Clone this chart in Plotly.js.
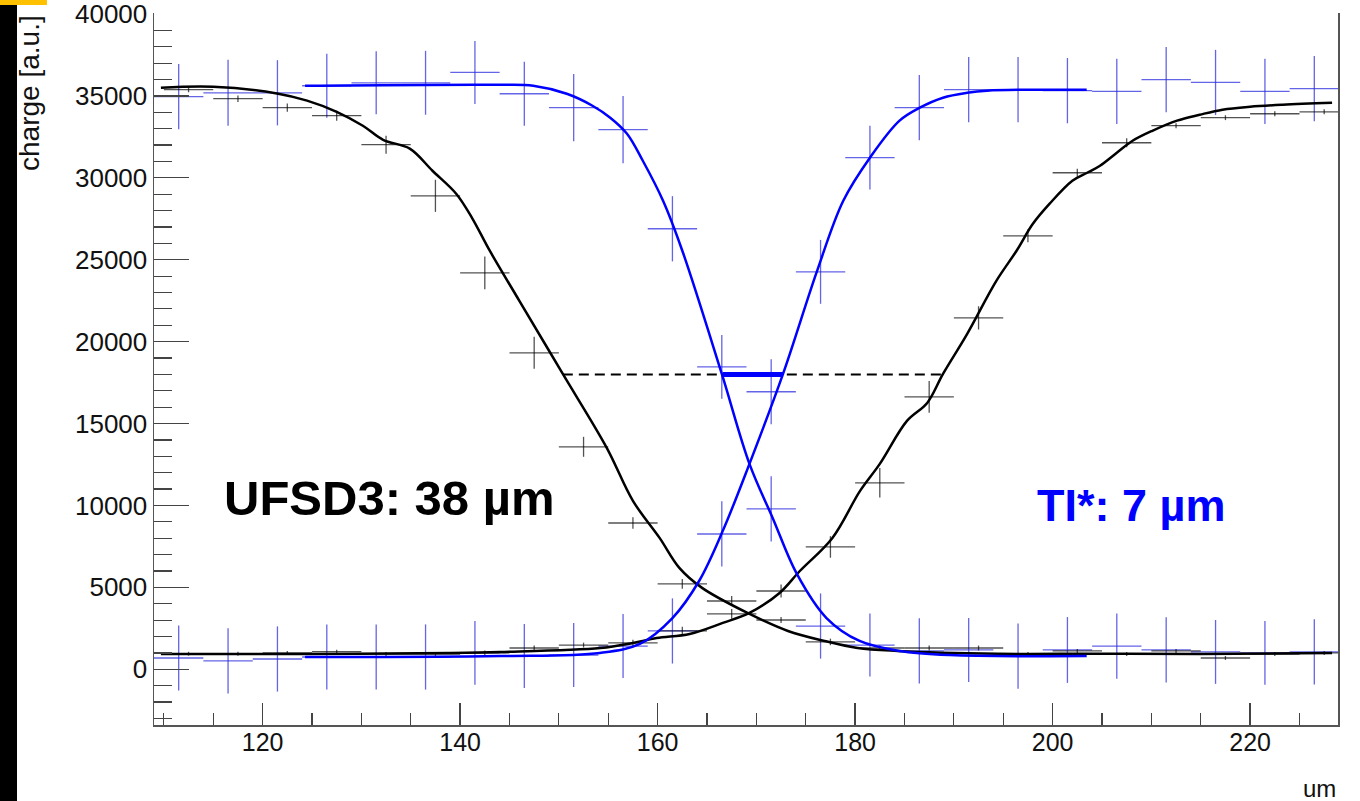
<!DOCTYPE html>
<html>
<head>
<meta charset="utf-8">
<script src="https://cdn.plot.ly/plotly-3.0.1.min.js"></script>
<style>html,body{margin:0;padding:0;background:#fff;}#chart{width:1360px;height:801px;}</style>
</head>
<body>
<div id="chart"></div>
<script>
// bin centres (um)
const xBlue  = [111.5,116.5,121.5,126.5,131.5,136.5,141.5,146.5,151.5,156.5,161.5,166.5,171.5,176.5,181.5,186.5,191.5,196.5,201.5,206.5,211.5,216.5,221.5,226.5];
const xBlack = [112.5,117.5,122.5,127.5,132.5,137.5,142.5,147.5,152.5,157.5,162.5,167.5,172.5,177.5,182.5,187.5,192.5,197.5,202.5,207.5,212.5,217.5,222.5,227.5];

// TI* histograms (blue)
const tiLeft     = [34950,35190,35190,35620,35800,35800,36430,35130,34280,32940,26890,18460,9790,2640,1480,1120,1180,810,1180,1420,1180,1060,1000,1060];
const tiLeftErr  = [1990,2010,1990,1950,1920,1950,1920,1950,2050,2050,1990,1950,1990,1990,1920,1990,1950,1990,2010,1990,1990,1950,1950,1990];
const tiRight    = [690,510,630,750,750,750,1000,810,870,1420,2340,8260,16940,24260,31230,34280,35380,35380,35320,35270,35990,35820,35270,35440];
const tiRightErr = [1990,1990,1990,1990,1990,1990,1950,1950,1950,1950,1990,1990,1990,1950,1950,1990,1990,1990,1990,1990,1990,1990,1990,1990];

// UFSD3 histograms (black)
const ufLeft     = [35380,34830,34280,33790,32020,28900,24200,19320,13580,8930,5210,4170,3010,1670,1300,1300,1300,930,1120,930,1120,690,930,1000];
const ufLeftErr  = [160,200,250,300,550,980,1000,980,610,350,300,300,180,200,150,150,150,120,120,120,120,120,120,120];
const ufRight    = [950,950,1000,1080,930,930,1000,1300,1480,1610,2340,3380,4780,7470,11380,16630,21450,26460,30310,32140,33180,33670,33910,34030];
const ufRightErr = [120,120,120,120,120,120,150,150,150,200,250,300,400,660,900,970,710,400,250,280,150,150,150,150];

// fit curves
const ufLeftFitX = [109.7,115.0,121.45,124.5,127.5,130.15,132.2,134.9,137.2,139.6,141.2,143.0,146.0,150.4,154.85,157.5,160.2,162.2,164.5,169.1,173.2,176.9,180.25,184.3,194.4,204.5,214.9,228.3];
const ufLeftFitY = [35500,35560,35150,34710,34030,33180,32320,31780,30430,29030,27560,25550,22490,18030,13520,10280,8020,6190,4970,3440,2340,1730,1300,1120,950,950,930,1000];
const ufRightFitX = [109.7,123.8,139.0,144.05,154.2,157.5,159.9,163.25,166.6,169.3,172.35,174.4,177.7,180.5,182.5,185.25,187.3,188.9,191.35,194.3,196.35,198.0,199.7,202.0,203.5,204.8,206.5,208.1,210.1,212.6,214.9,217.2,220.0,223.3,228.3];
const ufRightFitY = [930,930,1000,1060,1300,1610,1910,2160,2830,3440,4660,6000,8020,10890,12540,15160,16260,18030,20480,23710,25550,27190,28420,29820,30310,30740,31530,32260,32870,33490,33850,34160,34340,34460,34580];
const tiLeftFitX = [124.3,144.05,147.4,150.8,153.4,155.2,156.9,158.5,160.55,162.5,166.5,169.3,171.65,174.1,177.1,180.45,184.5,189.6,203.45];
const tiLeftFitY = [35620,35680,35620,35130,34400,33670,32690,31040,28600,25550,18030,12540,9240,5820,3130,1730,1120,870,810];
const tiRightFitX = [124.3,144.05,154.15,158.2,161.5,164.2,166.6,169.3,172.7,176.15,178.8,181.5,184.5,186.55,188.9,191.35,193.35,203.45];
const tiRightFitY = [750,810,1000,1550,3130,5390,8450,12540,18030,24320,28600,31230,33490,34280,34890,35190,35320,35380];

// half-maximum widths
const halfMax = 18000;
const ufWidthX = [150.4, 189.0];
const tiWidthX = [166.6, 172.7];

// labels
const ufLabel = "UFSD3: 38 µm";
const tiLabel = "TI*: 7 µm";
const yTitle = "charge [a.u.]";
const xTitle = "um";

const FONT = "Liberation Sans, Arial, Helvetica, sans-serif";
const BLUE = "#0000ff";
const histBlue = "rgba(40,40,220,0.72)";
const histBlack = "rgba(0,0,0,0.68)";

function hist(x, y, err, color) {
  return {
    type: "scatter", mode: "markers", x: x, y: y,
    marker: {size: 2, color: "rgba(0,0,0,0)"},
    error_x: {type: "constant", value: 2.5, width: 0, thickness: 1.3, color: color},
    error_y: {type: "data", array: err, visible: true, width: 0, thickness: 1.3, color: color},
    hoverinfo: "skip", showlegend: false
  };
}
function fit(x, y, color, w) {
  return {type: "scatter", mode: "lines", x: x, y: y,
    line: {color: color, width: w, shape: "spline", smoothing: 1.0},
    hoverinfo: "skip", showlegend: false};
}

const traces = [
  hist(xBlue, tiLeft, tiLeftErr, histBlue),
  hist(xBlue, tiRight, tiRightErr, histBlue),
  hist(xBlack, ufLeft, ufLeftErr, histBlack),
  hist(xBlack, ufRight, ufRightErr, histBlack),
  fit(ufLeftFitX, ufLeftFitY, "#000", 2.5),
  fit(ufRightFitX, ufRightFitY, "#000", 2.5),
  fit(tiLeftFitX, tiLeftFitY, BLUE, 2.5),
  fit(tiRightFitX, tiRightFitY, BLUE, 2.5),
  {type: "scatter", mode: "lines", x: ufWidthX, y: [halfMax, halfMax],
   line: {color: "#000", width: 2, dash: "10px,6px"}, hoverinfo: "skip", showlegend: false},
  {type: "scatter", mode: "lines", x: tiWidthX, y: [halfMax, halfMax],
   line: {color: BLUE, width: 5}, hoverinfo: "skip", showlegend: false}
];

const tickColor = "#444";
const layout = {
  width: 1360, height: 801,
  margin: {l: 154, r: 22, t: 13, b: 76, pad: 0},
  paper_bgcolor: "#fff", plot_bgcolor: "#fff",
  showlegend: false,
  font: {family: FONT, color: "#111"},
  xaxis: {
    range: [109.0, 228.9], showgrid: false, zeroline: false,
    showline: true, linecolor: "#555", linewidth: 1.5, mirror: false,
    ticks: "inside", ticklen: 22, tickwidth: 1.3, tickcolor: tickColor,
    tick0: 0, dtick: 20, tickfont: {family: FONT, size: 25, color: "#111"},
    ticklabelstandoff: -6, ticklabeloverflow: "allow",
    minor: {dtick: 5, ticks: "inside", ticklen: 12, tickwidth: 1.2, tickcolor: tickColor, showgrid: false}
  },
  yaxis: {
    range: [-3400, 40060], showgrid: false, zeroline: false,
    showline: true, linecolor: "#555", linewidth: 1.5, mirror: true,
    ticks: "inside", ticklen: 35, tickwidth: 1.3, tickcolor: tickColor,
    tick0: 0, dtick: 5000, tickformat: "d", tickfont: {family: FONT, size: 26, color: "#111"},
    ticklabelstandoff: 0, ticklabeloverflow: "allow",
    minor: {dtick: 1000, ticks: "inside", ticklen: 18, tickwidth: 1.2, tickcolor: tickColor, showgrid: false}
  },
  shapes: [
    {type: "rect", xref: "paper", yref: "paper", x0: -0.1301, x1: -0.1157, y0: -0.11, y1: 1.0112,
     fillcolor: "#000", line: {width: 0}, layer: "above"},
    {type: "rect", xref: "paper", yref: "paper", x0: -0.1301, x1: -0.0904, y0: 1.0112, y1: 1.02,
     fillcolor: "#ffc000", line: {width: 0}, layer: "above"}
  ],
  annotations: [
    {text: ufLabel, xref: "x", yref: "y", x: 115.9, y: 10460, xanchor: "left", yanchor: "middle",
     showarrow: false, font: {family: FONT, size: 49, color: "#000", weight: "bold"}},
    {text: tiLabel, xref: "x", yref: "y", x: 198.2, y: 9970, xanchor: "left", yanchor: "middle",
     showarrow: false, font: {family: FONT, size: 45, color: BLUE, weight: "bold"}},
    {text: yTitle, xref: "paper", yref: "paper", x: -0.1056, y: 1.0, xanchor: "center", yanchor: "top",
     textangle: -90, showarrow: false, font: {family: FONT, size: 28, color: "#111"}},
    {text: xTitle, xref: "paper", yref: "paper", x: 1.0, y: -0.0885, xanchor: "right", yanchor: "middle",
     showarrow: false, font: {family: FONT, size: 24, color: "#111"}}
  ]
};

Plotly.newPlot("chart", traces, layout, {staticPlot: true, displayModeBar: false});
</script>
</body>
</html>
